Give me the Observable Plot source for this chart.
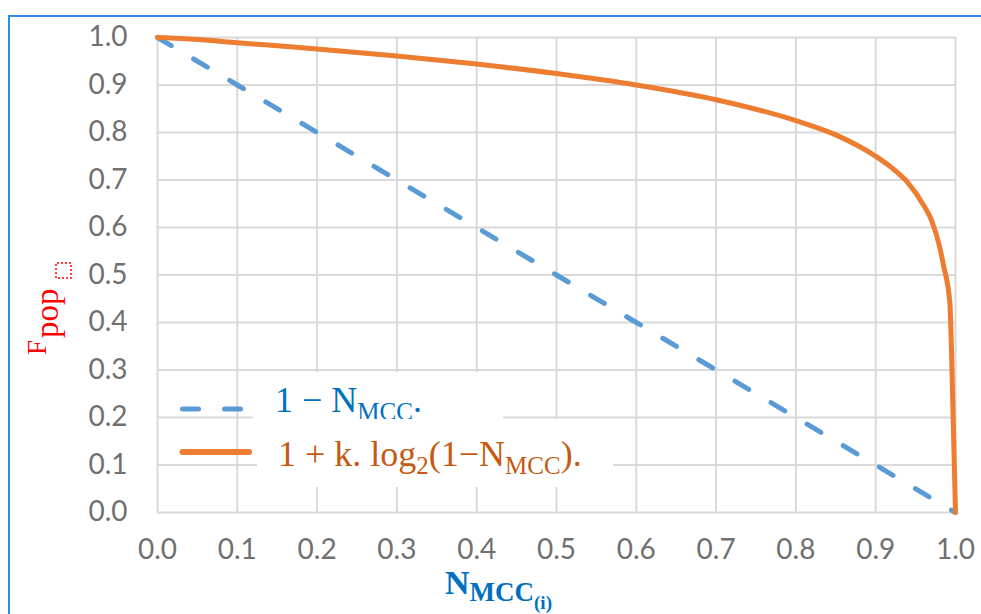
<!DOCTYPE html>
<html>
<head>
<meta charset="utf-8">
<script src="https://cdn.jsdelivr.net/npm/d3@7"></script>
<script src="https://cdn.jsdelivr.net/npm/@observablehq/plot@0.6"></script>
<style>
  html, body { margin: 0; padding: 0; background: #ffffff; }
  #wrap { position: relative; width: 981px; height: 614px; overflow: hidden; background: #fff; }
  #frame { position: absolute; left: 8px; top: 15px; width: 990px; height: 620px;
           border-left: 2px solid #2f8de8; border-top: 2px solid #2f8de8; pointer-events: none; }
</style>
</head>
<body>
<div id="wrap"><div id="frame"></div></div>
<script>
// ---- data ----
const xTicks = [0, 0.1, 0.2, 0.3, 0.4, 0.5, 0.6, 0.7, 0.8, 0.9, 1.0];
const yTicks = [0, 0.1, 0.2, 0.3, 0.4, 0.5, 0.6, 0.7, 0.8, 0.9, 1.0];

// series 1: 1 − N_MCC (dashed blue)
const linearN = [0, 0.1, 0.2, 0.3, 0.4, 0.5, 0.6, 0.7, 0.8, 0.9, 1.0];
const linearF = [1.0, 0.9, 0.8, 0.7, 0.6, 0.5, 0.4, 0.3, 0.2, 0.1, 0.0];

// series 2: 1 + k.log2(1−N_MCC) (solid orange)
const logN = [0, 0.05, 0.1, 0.2, 0.3, 0.4, 0.5, 0.6, 0.7, 0.8, 0.85, 0.9, 0.92, 0.94, 0.96, 0.97, 0.98, 0.985, 0.993, 0.995, 1.0];
const logF = [1.0, 0.996, 0.989, 0.976, 0.961, 0.944, 0.924, 0.900, 0.869, 0.825, 0.795, 0.750, 0.726, 0.695, 0.647, 0.615, 0.560, 0.520, 0.440, 0.340, 0.0];

const legendLabels = ["1 − N", "1 + k. log"];

// ---- build tables ----
const linearData = linearN.map((n, i) => ({n, f: linearF[i]}));
const logData = logN.map((n, i) => ({n, f: logF[i]}));

const tickColor = "#707070";
const gridColor = "#d9d9d9";
const blue = "#5B9BD5";
const orange = "#ED7D31";

const chart = Plot.plot({
  width: 981,
  height: 614,
  marginLeft: 157,
  marginRight: 26,
  marginTop: 37,
  marginBottom: 102,
  style: {fontFamily: "Lato, 'Liberation Sans', sans-serif", fontSize: "28px", background: "transparent", overflow: "visible"},
  x: {domain: [0, 1]},
  y: {domain: [0, 1]},
  marks: [
    Plot.gridX(xTicks, {stroke: gridColor, strokeOpacity: 1, strokeWidth: 2}),
    Plot.gridY(yTicks, {stroke: gridColor, strokeOpacity: 1, strokeWidth: 2}),
    Plot.axisX({ticks: xTicks, tickSize: 0, tickPadding: 27, tickFormat: d3.format(".1f"), label: null, fill: tickColor, fontSize: 28}),
    Plot.axisY({ticks: yTicks, tickSize: 0, tickPadding: 30, tickFormat: d3.format(".1f"), label: null, fill: tickColor, fontSize: 28}),
    Plot.line(linearData, {x: "n", y: "f", stroke: blue, strokeWidth: 5, strokeDasharray: "16 26", strokeLinecap: "round"}),
    Plot.line(logData, {x: "n", y: "f", stroke: orange, strokeWidth: 5, curve: "monotone-x", strokeLinejoin: "round"})
  ]
});

chart.style.position = "absolute";
chart.style.left = "0px";
chart.style.top = "0px";
document.getElementById("wrap").appendChild(chart);

// ---- overlays: legend, axis titles ----
const svg = d3.select(chart);
const serif = "'Liberation Serif', 'DejaVu Serif', serif";
const ov = svg.append("g").attr("font-family", serif).attr("text-anchor", "start");

// legend background boxes (cover gridlines behind text)
const defs = svg.append("defs");
defs.append("clipPath").attr("id", "clip1").append("rect").attr("x", 253).attr("y", 372).attr("width", 250).attr("height", 47);
ov.append("rect").attr("x", 253).attr("y", 372).attr("width", 250).attr("height", 47).attr("fill", "#fff");
ov.append("rect").attr("x", 257).attr("y", 419).attr("width", 356).attr("height", 68).attr("fill", "#fff");

// legend symbols
ov.append("line").attr("x1", 182.5).attr("x2", 245).attr("y1", 409).attr("y2", 409)
  .attr("stroke", blue).attr("stroke-width", 5).attr("stroke-dasharray", "16 26").attr("stroke-linecap", "round");
ov.append("line").attr("x1", 182.5).attr("x2", 249).attr("y1", 452).attr("y2", 452)
  .attr("stroke", orange).attr("stroke-width", 6).attr("stroke-linecap", "round");

// legend row 1
const t1 = ov.append("text").attr("x", 275).attr("y", 412).attr("fill", "#0070C0").attr("font-size", 36)
  .attr("clip-path", "url(#clip1)");
t1.append("tspan").text(legendLabels[0]);
t1.append("tspan").attr("dy", 8).attr("font-size", 25).text("MCC");
t1.append("tspan").attr("dy", -8).text(".");

// legend row 2
const t2 = ov.append("text").attr("x", 278).attr("y", 466).attr("fill", "#C55A11").attr("font-size", 36);
t2.append("tspan").text(legendLabels[1]);
t2.append("tspan").attr("dy", 8).attr("font-size", 25).text("2");
t2.append("tspan").attr("dy", -8).text("(1−N");
t2.append("tspan").attr("dy", 8).attr("font-size", 25).text("MCC");
t2.append("tspan").attr("dy", -8).text(").");

// y axis title: F_pop□ (rotated)
const yt = ov.append("g").attr("transform", "translate(46,355) rotate(-90)");
const ytext = yt.append("text").attr("x", 0).attr("y", 0).attr("fill", "#FF0000").attr("font-size", 27);
ytext.append("tspan").text("F");
ytext.append("tspan").attr("dx", 2).attr("dy", 12).attr("font-size", 33).text("pop");
yt.append("rect").attr("x", 77).attr("y", 10).attr("width", 15).attr("height", 15)
  .attr("fill", "none").attr("stroke", "#FF0000").attr("stroke-width", 1.5).attr("stroke-dasharray", "2 2");

// x axis title: N_MCC(i)
const xt = ov.append("text").attr("x", 445).attr("y", 594).attr("fill", "#0070C0").attr("font-size", 34).attr("font-weight", "bold");
xt.append("tspan").text("N");
xt.append("tspan").attr("dy", 7).attr("font-size", 27).text("MCC");
xt.append("tspan").attr("dy", 8).attr("font-size", 19).text("(i)");
</script>
</body>
</html>
